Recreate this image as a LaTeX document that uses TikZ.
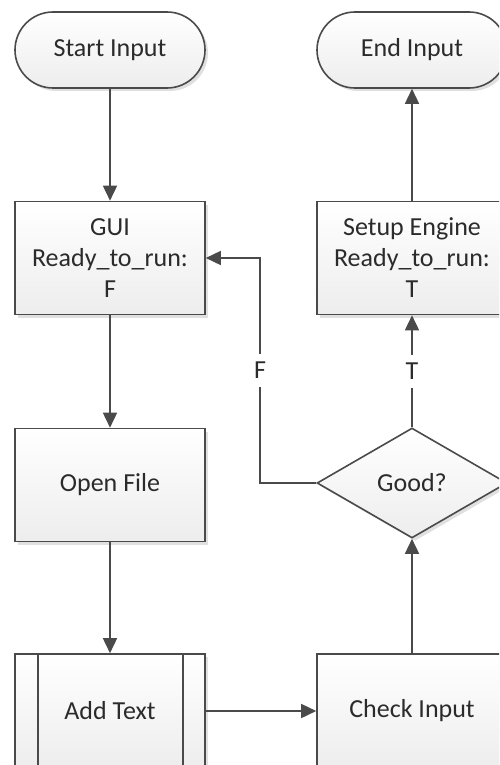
\documentclass[tikz,border=0pt]{standalone}
\usepackage{fontspec}
\setmainfont{Carlito}
\usetikzlibrary{arrows.meta,shapes.geometric,shapes.misc,shadows}
\definecolor{edge}{HTML}{4A4A4A}
\definecolor{ink}{HTML}{2B2B2B}
\begin{document}
\begin{tikzpicture}[x=1pt,y=-1pt,
  base/.style={draw=edge, line width=1.6pt, top color=white, bottom color=black!7,
    drop shadow={shadow xshift=3pt, shadow yshift=-3pt, opacity=0.12, fill=black},
    text=ink, align=center, inner sep=0pt,
    font=\fontsize{26}{31}\selectfont},
  term/.style={base, rounded rectangle, minimum width=190pt, minimum height=76pt},
  proc/.style={base, rectangle, minimum width=190pt, minimum height=113pt},
  decide/.style={base, diamond, minimum width=190pt, minimum height=110pt},
  arr/.style={draw=edge, line width=1.6pt, -{Triangle[length=15pt,width=14pt]}},
  lbl/.style={fill=white, text=ink, inner xsep=2pt, inner ysep=8pt,
    font=\fontsize{26}{31}\selectfont}
]
\useasboundingbox (0,0) rectangle (499,765);
\clip (0,0) rectangle (499,765);

% left column
\node[term] (start) at (110,50) {Start Input};
\node[proc] (gui)   at (110,258) {GUI\\Ready\_to\_run:\\F};
\node[proc] (open)  at (110,485) {Open File};
\node[proc, minimum height=114pt] (add) at (110,711) {Add Text};
\draw[draw=edge, line width=1.6pt]
  ([xshift=24pt]add.north west) -- ([xshift=24pt]add.south west)
  ([xshift=-23pt]add.north east) -- ([xshift=-23pt]add.south east);

% right column
\node[proc, minimum height=114pt] (check) at (412,711) {Check Input};
\node[decide] (good)  at (412,483) {Good?};
\node[proc]   (setup) at (412,258) {Setup Engine\\Ready\_to\_run:\\T};
\node[term]   (end)   at (412,50) {End Input};

% flow
\draw[arr] (start) -- (gui);
\draw[arr] (gui) -- (open);
\draw[arr] (open) -- (add);
\draw[arr] (add) -- (check);
\draw[arr] (check) -- (good);
\draw[arr] (good) -- node[lbl] {T} (setup);
\draw[arr] (setup) -- (end);
\draw[arr] (good.west) -- ++(-56,0) |- node[lbl, pos=0.25] {F} (gui.east);
\end{tikzpicture}
\end{document}
